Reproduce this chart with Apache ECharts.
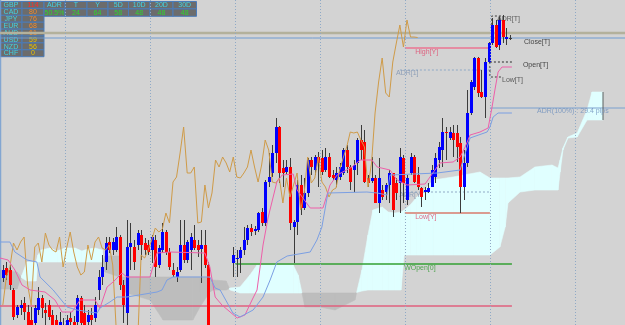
<!DOCTYPE html>
<html>
<head>
<meta charset="utf-8">
<script src="https://cdn.jsdelivr.net/npm/echarts@6/dist/echarts.min.js"></script>
<style>
  html, body { margin: 0; padding: 0; background: #d3d3d3; }
  #chart { width: 625px; height: 325px; }
</style>
</head>
<body>
<div id="chart"></div>
<script>
// one entry per H1 bar, price in chart units
const opens = [47,57,55,35,10,17,22,13,5,2,15,27,15,20,10,5,-7,0,-5,7,3,3,27,12,3,10,7,35,48,63,
  83,75,75,88,40,12,78,78,80,90,82,80,75,85,60,75,93,73,55,48,55,80,65,75,85,80,76,80,60,-5,
  -20,-35,-25,-40,-30,62,66,67,75,85,97,94,95,113,102,143,152,172,198,157,153,158,98,103,140,117,132,165,155,168,
  167,155,168,150,145,148,152,175,158,155,162,185,183,147,144,147,122,135,133,140,152,142,142,167,125,152,168,150,137,133,
  133,138,148,165,175,193,187,192,192,182,138,162,212,238,267,233,228,263,282,300,280,305,286,287];
const closes = [55,50,40,8,18,20,13,0,0,17,27,17,12,8,0,-3,3,-10,5,3,-5,27,2,0,10,5,20,48,58,82,
  75,83,88,40,20,78,82,63,92,80,75,73,88,58,77,93,73,58,50,53,80,65,83,88,77,75,80,60,-5,-20,
  -35,-25,-40,-30,-20,70,67,75,85,97,93,96,112,102,143,148,172,198,152,152,158,102,103,140,117,132,165,158,168,162,
  153,168,148,147,152,158,175,158,143,160,185,175,143,142,147,122,147,128,140,152,115,132,168,142,147,168,143,138,128,135,
  137,155,167,178,193,192,193,185,178,138,162,212,243,267,232,228,263,282,300,278,305,288,288,287.5];
const lows = [43,45,35,5,7,10,5,-5,-5,-3,10,7,0,5,-5,-10,-13,-15,-10,-5,-10,-2,-3,-5,-1,0,3,25,40,55,
  72,70,73,35,2,0,55,55,75,65,70,70,62,48,57,72,70,55,48,43,53,62,62,55,75,68,42,57,-10,-30,
  -45,-48,-50,-45,-35,48,48,52,70,80,89,90,93,99,99,138,148,162,142,138,151,95,62,90,110,115,128,150,150,138,
  150,153,147,145,138,145,150,152,135,133,150,165,142,138,142,122,112,125,125,122,108,125,112,122,120,150,142,135,118,125,
  132,138,142,157,158,165,185,168,163,112,125,158,210,235,228,227,207,262,280,277,275,282,280,285];
const highs = [60,63,60,37,20,25,28,20,18,20,38,30,22,25,15,10,13,7,10,13,9,30,29,20,15,17,28,55,70,88,
  88,87,98,90,45,105,102,85,95,95,87,85,90,90,80,102,95,77,62,58,105,105,85,92,100,85,95,95,63,0,
  -15,-20,-20,-25,-15,78,75,78,98,100,101,99,113,117,145,172,180,207,199,165,165,167,105,145,150,147,167,168,170,173,
  175,177,172,155,158,162,177,180,160,165,187,200,195,150,168,150,167,140,142,155,152,147,177,170,150,172,170,158,138,138,
  142,160,172,183,207,198,198,200,200,188,175,235,245,268,268,255,267,283,307,305,308,310,297,290];

// lagging span is the close shifted back this many bars
const chikouShift = 26;

// tenkan-sen (pink) and kijun-sen (blue) vertices: [bar, price]
const tenkan = [[-0.8,67],[1.5,65],[3.4,55],[5.4,40],[7.7,35],[11.9,33],[14.7,25],[16.7,13],[19.5,13],[21.8,25],
  [26.0,25],[27.4,17],[29.4,38],[31.1,43],[33.6,52],[35.0,48],[41.5,48],[43.5,72],[47.2,73],[57.0,72],
  [58.4,58],[59.9,28],[61.8,20],[66.1,7],[68.3,10],[70.3,25],[71.7,35],[73.4,80],[74.8,107],[77.3,143],
  [78.8,150],[81.9,151],[83.0,135],[86.7,117],[90.3,117],[92.3,140],[94.3,150],[98.5,158],[100.8,165],[104.1,165],
  [105.6,158],[109.2,155],[111.2,145],[114.0,140],[119.1,141],[123.3,162],[127.0,163],[129.0,168],[130.4,178],[131.8,190],
  [134.6,193],[136.9,197],[138.0,218],[138.8,235],[139.7,253],[140.8,258],[143.6,258]];
const kijun = [[-0.8,83],[2.0,83],[3.4,73],[6.8,65],[9.6,63],[10.5,48],[14.2,35],[18.1,18],[20.9,15],[26.6,12],
  [27.4,17],[30.2,23],[32.2,28],[35.0,28],[43.5,33],[44.9,35],[46.3,45],[48.0,48],[58.4,48],[59.9,37],
  [61.3,35],[64.9,12],[66.9,8],[70.6,15],[73.4,28],[75.4,45],[77.3,63],[80.2,69],[86.7,73],[88.6,85],
  [90.0,98],[91.7,132],[102.7,133],[105.6,132],[108.4,130],[109.2,150],[122.5,152],[129.0,155],[129.8,165],[131.8,187],
  [136.6,193],[137.4,198],[138.3,208],[139.7,212],[143.6,212]];

// kumo edges: bar position, senkou span A, senkou span B
const cloudX = [-0.8,4.0,5.4,6.8,9.35,9.9,10.8,13.3,15.3,17.5,20.4,22.3,24.0,26.0,28.0,28.8,33.0,33.6,35.0,41.5,
  45.2,53.6,55.6,58.4,59.3,63.0,64.1,66.9,69.7,71.7,81.9,83.3,84.4,85.2,89.5,93.7,99.3,101.3,103.0,104.4,
  107.0,108.7,110.6,112.3,113.2,114.9,116.8,117.7,121.4,127.0,134.6,137.4,140.2,141.7,142.5,145.9,150.1,154.9,156.6,157.2,
  158.0,159.4,162.0,164.8,166.2,169.3];
const spanA = [36,36,50,63,63,70,75,77,74,77,77,74,76,77,75,53,48,35,32,25,
  5,5,18,33,35,35,37,38,50,60,60,50,32,18,18,15,25,55,90,115,
  118,113,112,113,115,120,128,130,145,148,153,147,147,147,147,148,158,160,157,165,
  177,188,192,215,233,233];
const spanB = [55,53,47,44,44,63,63,63,63,63,63,63,63,63,63,69,69,48,48,48,
  48,48,48,47,45,44,35,32,32,32,32,32,32,32,32,32,32,34,35,35,
  35,35,35,35,70,70,70,70,70,70,70,70,78,98,122,133,135,135,135,153,
  175,187,188,205,205,205];

// chart grid (dotted verticals) every 24 bars
const gridBars = [17.5, 41.5, 65.5, 89.5, 113.5, 137.5, 161.5];

// level labels and where they sit [bar, price]
const levelText = ['ADR[T]', 'Close[T]', 'Open[T]', 'Low[T]', 'High[Y]', 'ADR[1]',
  'ADR(100%) : 29.4 pips', 'ADR[Y]', 'Low[Y]', 'WOpen[0]'];
const levelAt = [[139.4,306],[147.0,283],[146.7,260],[140.8,245],[116.3,272.5],[110.9,252],
  [150.7,214],[111.8,130],[116.3,108],[113.2,57]];
const levelColor = ['#3a3a3a','#1a1a1a','#1a1a1a','#3a3a3a','#e0476c','#7d92b0',
  '#6d8fbd','#7d92b0','#e0476c','#2f9a2f'];

// currency strength meter + ADR table
const currencies = ['GBP','CAD','JPY','EUR','AUD','USD','NZD','CHF'];
const strength = [114, 80, 76, 68, 61, 59, 56, 0];
const adrHeads = ['ADR','T','Y','5D','10D','20D','30D'];
const adrVals = ['50.5%','24','64','58','48','48','48'];

const chart = echarts.init(document.getElementById('chart'));

const candleData = opens.map((o, i) => [i, o, closes[i], lows[i], highs[i]]);
const chikou = closes.slice(chikouShift).map((c, j) => [j, c]);
const cloudData = cloudX.map((x, k) => [x, spanA[k], spanB[k]]);

function renderCandle(params, api) {
  const i = api.value(0);
  const o = api.value(1), c = api.value(2), l = api.value(3), h = api.value(4);
  const pH = api.coord([i, h]), pL = api.coord([i, l]);
  const pO = api.coord([i, o]), pC = api.coord([i, c]);
  const cx = Math.round(pH[0]);
  const y1 = Math.round(Math.min(pO[1], pC[1]));
  const y2 = Math.round(Math.max(pO[1], pC[1]));
  const up = c >= o;
  return {
    type: 'group',
    children: [
      { type: 'rect', shape: { x: cx, y: pH[1], width: 1, height: Math.max(1, pL[1] - pH[1]) },
        style: { fill: '#3b3b3b' } },
      { type: 'rect', shape: { x: cx - 1, y: y1, width: 3, height: Math.max(1, y2 - y1) },
        style: { fill: y2 - y1 < 1 ? '#3b3b3b' : (up ? '#0000ff' : '#ff0000') } }
    ]
  };
}

function renderCloud(params, api) {
  const k = params.dataIndex;
  if (k >= cloudX.length - 1) return null;
  const x0 = cloudX[k], x1 = cloudX[k + 1];
  const a0 = spanA[k], a1 = spanA[k + 1], b0 = spanB[k], b1 = spanB[k + 1];
  const d0 = a0 - b0, d1 = a1 - b1;
  const poly = (pts, bull) => {
    const fill = bull ? '#e0ffff' : '#bdbdbd';
    return { type: 'polygon', shape: { points: pts.map(p => api.coord(p)) },
      style: { fill: fill, stroke: fill, lineWidth: 0.6 } };
  };
  const parts = [];
  if (d0 * d1 < 0) {
    const t = d0 / (d0 - d1);
    const xm = x0 + t * (x1 - x0), ym = a0 + t * (a1 - a0);
    parts.push(poly([[x0, a0], [xm, ym], [x0, b0]], d0 > 0));
    parts.push(poly([[xm, ym], [x1, a1], [x1, b1]], d1 > 0));
  } else {
    parts.push(poly([[x0, a0], [x1, a1], [x1, b1], [x0, b0]], d0 + d1 >= 0));
  }
  return { type: 'group', children: parts };
}

function level(points, color, width, type, z) {
  return {
    type: 'line', data: points, symbol: 'none', silent: true, z: z || 2,
    lineStyle: { color: color, width: width, type: type || 'solid' }
  };
}

// table drawn as graphic cells
const font = { fontSize: 7, fontFamily: 'Liberation Sans' };
const cellFill = '#6c6c6c', cellStroke = '#4b7cb9';
const table = [];
const rowH = 6.9;
currencies.forEach((cur, r) => {
  const y = 1.5 + r * rowH;
  const col = strength[r] > 100 ? '#ff2b2b' : (strength[r] >= 60 ? '#f08a2c' : '#e6c200');
  table.push({ type: 'rect', shape: { x: 0.5, y: y, width: 21.5, height: rowH }, style: { fill: cellFill, stroke: cellStroke, lineWidth: 1 } });
  table.push({ type: 'rect', shape: { x: 22, y: y, width: 22, height: rowH }, style: { fill: cellFill, stroke: cellStroke, lineWidth: 1 } });
  table.push({ type: 'text', x: 11, y: y + rowH / 2 + 0.3, style: Object.assign({ text: cur, fill: '#3fd3e3', align: 'center', verticalAlign: 'middle' }, font) });
  table.push({ type: 'text', x: 33, y: y + rowH / 2 + 0.3, style: Object.assign({ text: String(strength[r]), fill: col, align: 'center', verticalAlign: 'middle' }, font) });
});
const adrEdges = [44, 65, 87, 108, 128.5, 150, 173, 196.5];
adrHeads.forEach((hd, c) => {
  const x = adrEdges[c], w = adrEdges[c + 1] - adrEdges[c];
  [0, 1].forEach(r => {
    const y = 1.5 + r * 7.4;
    table.push({ type: 'rect', shape: { x: x, y: y, width: w, height: 7.4 }, style: { fill: cellFill, stroke: cellStroke, lineWidth: 1 } });
    table.push({ type: 'text', x: x + w / 2, y: y + 3.9,
      style: Object.assign({ text: r === 0 ? hd : adrVals[c], fill: r === 0 ? '#3fd3e3' : '#2fd42f', align: 'center', verticalAlign: 'middle' }, font) });
  });
});

const option = {
  animation: false,
  backgroundColor: '#d3d3d3',
  grid: { left: 0, right: 0, top: 0, bottom: 0 },
  xAxis: { type: 'value', min: -0.8, max: 175.5, show: false },
  yAxis: { type: 'value', min: 0, max: 325, show: false },
  graphic: [{ type: 'group', z: 100, children: table }],
  series: [
    { type: 'custom', name: 'Kumo', renderItem: renderCloud, data: cloudData,
      encode: { x: 0, y: [1, 2] }, clip: true, silent: true, z: 1 },
    Object.assign(level([[-0.8, 0], [-0.8, 0]], '#d3d3d3', 0), {
      markLine: {
        silent: true, symbol: 'none', label: { show: false },
        lineStyle: { color: '#8fa9c6', type: [1, 2], width: 1 },
        data: gridBars.map(b => ({ xAxis: b }))
      }
    }),
    level([[-0.6, 0], [-0.6, 325]], '#6f9bd1', 1),
    level([[-0.8, 292], [175.5, 292]], '#b3b19c', 2.5),
    level([[-0.8, 287], [175.5, 287]], '#6f9bd1', 1),
    level([[113.4, 277], [137.4, 277]], '#e58ca2', 2),
    level([[137.4, 263], [143.6, 263]], '#2b2b2b', 1, [2, 2]),
    level([[112.0, 255], [137.4, 255]], '#8fa9c6', 1, [2, 2]),
    level([[140.5, 248], [137.4, 248], [137.4, 263]], '#3b3b3b', 1, [2, 2]),
    level([[140.5, 309], [137.9, 309], [137.9, 292]], '#3b3b3b', 1, [2, 2]),
    level([[137.4, 217], [175.5, 217]], '#7aa0cf', 1),
    level([[114.0, 133], [137.4, 133]], '#8fa9c6', 1, [2, 2]),
    level([[113.4, 112], [137.4, 112]], '#d97a6c', 1.5),
    level([[65.5, 61], [143.6, 61]], '#33a033', 1.5),
    level([[-0.8, 19], [143.6, 19]], '#e0607e', 1.5),
    level([[169.3, 205], [169.3, 233]], '#5a5a5a', 1),
    {
      type: 'scatter', symbolSize: 0, silent: true, z: 3,
      data: levelText.map((t, k) => ({
        name: t, value: levelAt[k],
        label: { show: true, formatter: '{b}', position: [0, 0], align: 'left', verticalAlign: 'middle',
          color: levelColor[k], fontSize: 7, fontFamily: 'Liberation Sans' }
      }))
    },
    { type: 'custom', name: 'Candles', renderItem: renderCandle, data: candleData,
      encode: { x: 0, y: [1, 2, 3, 4] }, clip: true, silent: true, z: 4 },
    level(chikou, '#cf9b48', 1, 'solid', 5),
    level(tenkan, '#ee5fa9', 1, 'solid', 5),
    level(kijun, '#7b9fe3', 1, 'solid', 5)
  ]
};

chart.setOption(option);
window.addEventListener('resize', () => chart.resize());
</script>
</body>
</html>
